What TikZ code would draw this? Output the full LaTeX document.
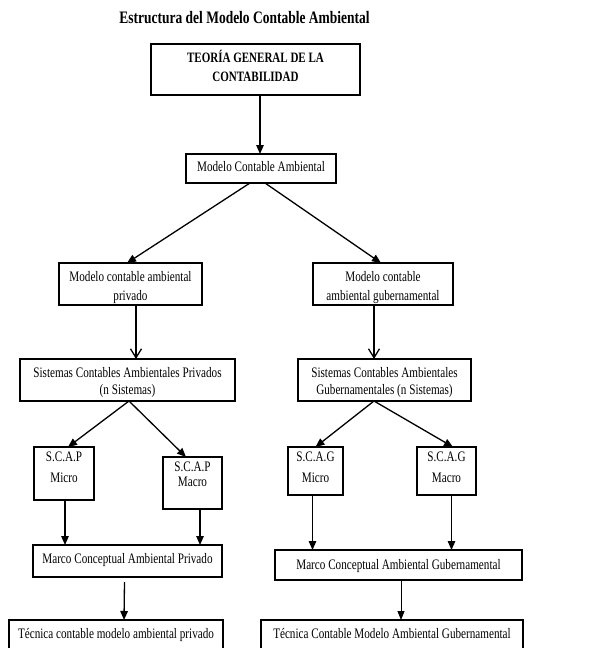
\documentclass[tikz,border=0pt]{standalone}
\usepackage{fontspec}
\setmainfont{Liberation Serif}[FakeStretch=0.77]
\usetikzlibrary{arrows.meta}
\begin{document}
\begin{tikzpicture}[x=1pt,y=-1pt,
  box/.style={draw=black, line width=1.3pt, inner sep=0pt, outer sep=0pt, fill=none},
  txt/.style={inner sep=0pt, text height=0.7em, text depth=0.2em, font=\fontsize{14.5}{16}\selectfont},
  btxt/.style={txt, font=\fontsize{14.3}{16}\selectfont\bfseries},
  conn/.style={line width=1.3pt, -{Triangle[length=9pt,width=7.5pt]}},
  vconn/.style={line width=1.3pt, -{Straight Barb[length=9pt,width=11pt,line width=1.3pt]}},
  thinconn/.style={line width=0.8pt, -{Triangle[length=9pt,width=7pt]}}]
\useasboundingbox (0,0) rectangle (595,648);
\clip (0,0) rectangle (595,648);
\fill[white] (0,0) rectangle (595,648);

% title
\node[inner sep=0pt, font=\fontsize{17.5}{19}\selectfont\bfseries] (title) at (244.5,18) {Estructura del Modelo Contable Ambiental};

% texts
\node[btxt] (tT1) at (255.5,60) {TEORÍA GENERAL DE LA};
\node[btxt] (tT2) at (255.5,79) {CONTABILIDAD};
\node[txt] (tM) at (261,169) {Modelo Contable Ambiental};
\node[txt] (tL31) at (130.5,279) {Modelo contable ambiental};
\node[txt] (tL32) at (130.5,297.5) {privado};
\node[txt] (tR31) at (383,279) {Modelo contable};
\node[txt] (tR32) at (383,297.5) {ambiental gubernamental};
\node[txt] (tL41) at (127.5,375) {Sistemas Contables Ambientales Privados};
\node[txt] (tL42) at (127.5,392) {(n Sistemas)};
\node[txt] (tR41) at (384.5,375) {Sistemas Contables Ambientales};
\node[txt] (tR42) at (384.5,392) {Gubernamentales (n Sistemas)};
\node[txt] (tPMi1) at (64,458.5) {S.C.A.P};
\node[txt] (tPMi2) at (64,480) {Micro};
\node[txt] (tPMa1) at (192.5,469) {S.C.A.P};
\node[txt] (tPMa2) at (192.5,483.5) {Macro};
\node[txt] (tGMi1) at (315.5,458.5) {S.C.A.G};
\node[txt] (tGMi2) at (315.5,480) {Micro};
\node[txt] (tGMa1) at (446.5,458.5) {S.C.A.G};
\node[txt] (tGMa2) at (446.5,480) {Macro};
\node[txt] (tMP) at (127.5,561) {Marco Conceptual Ambiental Privado};
\node[txt] (tMG) at (398.5,567) {Marco Conceptual Ambiental Gubernamental};
\node[txt] (tTP) at (116,636) {Técnica contable modelo ambiental privado};
\node[txt] (tTG) at (392,636) {Técnica Contable Modelo Ambiental Gubernamental};

% boxes
\node[box, minimum width=209pt, minimum height=51pt] (T) at (255.5,69.5) {};
\node[box, minimum width=150pt, minimum height=29pt] (M) at (261,168.5) {};
\node[box, minimum width=143pt, minimum height=42pt] (L3) at (130.5,284) {};
\node[box, minimum width=140pt, minimum height=42pt] (R3) at (383,284) {};
\node[box, minimum width=215pt, minimum height=42pt] (L4) at (127.5,380) {};
\node[box, minimum width=173pt, minimum height=42pt] (R4) at (384.5,380) {};
\node[box, minimum width=60pt, minimum height=53pt] (PMi) at (64,473.5) {};
\node[box, minimum width=59pt, minimum height=52pt] (PMa) at (192.5,483) {};
\node[box, minimum width=55pt, minimum height=48pt] (GMi) at (315.5,471) {};
\node[box, minimum width=59pt, minimum height=48pt] (GMa) at (446.5,471) {};
\node[box, minimum width=189pt, minimum height=32pt] (MP) at (127.5,561) {};
\node[box, minimum width=247pt, minimum height=30pt] (MG) at (398.5,565) {};
\node[box, minimum width=214pt, minimum height=40pt] (TP) at (116,640) {};
\node[box, minimum width=262pt, minimum height=40pt] (TG) at (392,640) {};

% connectors
\draw[conn] ([xshift=4.5pt]T.south) -- ([xshift=-1pt]M.north);
\draw[conn] ([xshift=-11pt]M.south) -- ([xshift=-3.5pt]L3.north);
\draw[conn] ([xshift=4pt]M.south) -- ([xshift=-2pt]R3.north);
\draw[vconn] ([xshift=5.5pt]L3.south) -- ([xshift=8.5pt]L4.north);
\draw[vconn] ([xshift=-9pt]R3.south) -- ([xshift=-10.5pt]R4.north);
\draw[conn] ([xshift=1.5pt]L4.south) -- ([xshift=4pt]PMi.north);
\draw[conn] ([xshift=1.5pt]L4.south) -- ([xshift=-6.5pt]PMa.north);
\draw[conn] ([xshift=-10.5pt]R4.south) -- (GMi.north);
\draw[conn] ([xshift=-10.5pt]R4.south) -- ([xshift=6.5pt]GMa.north);
\draw[conn] ([xshift=1pt]PMi.south) -- ([xshift=1pt]PMi.south |- MP.north);
\draw[conn] ([xshift=7.5pt]PMa.south) -- ([xshift=7.5pt]PMa.south |- MP.north);
\draw[conn] ([xshift=-3pt]GMi.south) -- ([xshift=-3pt]GMi.south |- MG.north);
\draw[conn] ([xshift=5pt]GMa.south) -- ([xshift=5pt]GMa.south |- MG.north);
\draw[conn] ([xshift=-3pt,yshift=-5pt]MP.south) -- ([xshift=8pt]TP.north);
\draw[thinconn] ([xshift=2.5pt]MG.south) -- ([xshift=9pt]TG.north);
\end{tikzpicture}
\end{document}
